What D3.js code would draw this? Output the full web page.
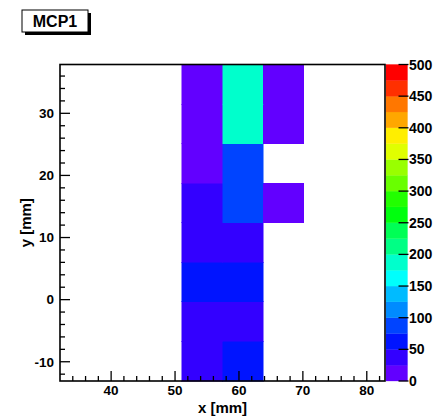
<!DOCTYPE html>
<html>
<head>
<meta charset="utf-8">
<script src="https://cdn.jsdelivr.net/npm/d3@7"></script>
<style>
  html, body { margin: 0; padding: 0; background: #fff; }
  svg { display: block; }
  text { font-family: "Liberation Sans", Arial, Helvetica, sans-serif; font-weight: bold; fill: #000; }
</style>
</head>
<body>
<svg id="chart" width="435" height="417"></svg>
<script>
// Bin edges of the 8 x 8 histogram (mm)
const xEdges = [32.0, 38.36, 44.71, 51.07, 57.43, 63.78, 70.14, 76.5, 82.85];
const yEdges = [-13.1, -6.73, -0.36, 6.01, 12.38, 18.75, 25.12, 31.49, 37.86];

// Bin contents, one row per y bin (bottom row first), one entry per x bin
const row0 = [0, 0, 0, 40, 60, 0, 0, 0];
const row1 = [0, 0, 0, 35, 38, 0, 0, 0];
const row2 = [0, 0, 0, 55, 65, 0, 0, 0];
const row3 = [0, 0, 0, 45, 48, 0, 0, 0];
const row4 = [0, 0, 0, 42, 90, 12, 0, 0];
const row5 = [0, 0, 0, 20, 85, 0, 0, 0];
const row6 = [0, 0, 0, 18, 185, 10, 0, 0];
const row7 = [0, 0, 0, 15, 190, 14, 0, 0];
const counts = [row0, row1, row2, row3, row4, row5, row6, row7];

// Axis ticks and colour scale
const xTicks = [40, 50, 60, 70, 80];
const yTicks = [-10, 0, 10, 20, 30];
const zMin = 0, zMax = 500;
const zTicks = [0, 50, 100, 150, 200, 250, 300, 350, 400, 450, 500];
const palette = [
  "#6200ff", "#3300ff", "#0014ff", "#0044ff", "#008bff",
  "#00bbff", "#00fffc", "#00ffcc", "#00ff85", "#00ff55",
  "#00ff0e", "#22ff00", "#69ff00", "#99ff00", "#e0ff00",
  "#ffee00", "#ffa700", "#ff7700", "#ff3000", "#ff0000"
];
const titleText = "MCP1";
const xTitle = "x [mm]";
const yTitle = "y [mm]";

const frame = { left: 60, right: 385, top: 64.5, bottom: 381 };
const bar = { left: 386, right: 407.5 };

const svg = d3.select("#chart");

const x = d3.scaleLinear().domain([xEdges[0], xEdges[xEdges.length - 1]]).range([frame.left, frame.right]);
const y = d3.scaleLinear().domain([yEdges[0], yEdges[yEdges.length - 1]]).range([frame.bottom, frame.top]);
const color = d3.scaleQuantize().domain([zMin, zMax]).range(palette);

// Histogram cells (empty bins are left blank)
const cells = [];
counts.forEach((row, j) => row.forEach((v, i) => {
  if (v > 0) cells.push({ i, j, v });
}));
svg.append("g").selectAll("rect").data(cells).join("rect")
  .attr("x", d => x(xEdges[d.i]))
  .attr("y", d => y(yEdges[d.j + 1]))
  .attr("width", d => x(xEdges[d.i + 1]) - x(xEdges[d.i]))
  .attr("height", d => y(yEdges[d.j]) - y(yEdges[d.j + 1]))
  .attr("fill", d => color(d.v))
  .attr("stroke", d => color(d.v))
  .attr("stroke-width", 0.5)
  .attr("shape-rendering", "crispEdges");

// Colour bar
const z = d3.scaleLinear().domain([zMin, zMax]).range([frame.bottom, frame.top]);
const step = (zMax - zMin) / palette.length;
svg.append("g").selectAll("rect").data(palette).join("rect")
  .attr("x", bar.left).attr("width", bar.right - bar.left)
  .attr("y", (d, k) => z(zMin + (k + 1) * step))
  .attr("height", (d, k) => z(zMin + k * step) - z(zMin + (k + 1) * step))
  .attr("fill", d => d).attr("stroke", d => d).attr("stroke-width", 0.3);
const gz = svg.append("g");
gz.selectAll("line").data(zTicks).join("line")
  .attr("x1", bar.right - 9).attr("x2", bar.right + 1)
  .attr("y1", d => z(d)).attr("y2", d => z(d))
  .attr("stroke", "#000").attr("stroke-width", 1.3);
gz.selectAll("text").data(zTicks).join("text")
  .attr("x", bar.right + 1.5).attr("y", d => z(d))
  .attr("dy", "0.36em").attr("font-size", 14)
  .text(d => d);

// Frame
svg.append("rect")
  .attr("x", frame.left).attr("y", frame.top)
  .attr("width", frame.right - frame.left).attr("height", frame.bottom - frame.top)
  .attr("fill", "none").attr("stroke", "#000").attr("stroke-width", 1.6);

// X axis: ticks pointing into the frame
const xMinor = d3.range(34, 83, 2).filter(v => !xTicks.includes(v));
const gx = svg.append("g").attr("transform", `translate(0,${frame.bottom})`);
gx.selectAll("line.minor").data(xMinor).join("line").attr("class", "minor")
  .attr("x1", d => x(d)).attr("x2", d => x(d)).attr("y1", 0).attr("y2", -5)
  .attr("stroke", "#000").attr("stroke-width", 1.3);
gx.selectAll("line.major").data(xTicks).join("line").attr("class", "major")
  .attr("x1", d => x(d)).attr("x2", d => x(d)).attr("y1", 0).attr("y2", -10)
  .attr("stroke", "#000").attr("stroke-width", 1.3);
gx.selectAll("text").data(xTicks).join("text")
  .attr("x", d => x(d)).attr("y", 14)
  .attr("text-anchor", "middle").attr("font-size", 13.5)
  .text(d => d);
svg.append("text")
  .attr("x", (frame.left + frame.right) / 2).attr("y", 413)
  .attr("text-anchor", "middle").attr("font-size", 15)
  .text(xTitle);

// Y axis
const yMinor = d3.range(-12, 38, 2).filter(v => !yTicks.includes(v));
const gy = svg.append("g").attr("transform", `translate(${frame.left},0)`);
gy.selectAll("line.minor").data(yMinor).join("line").attr("class", "minor")
  .attr("y1", d => y(d)).attr("y2", d => y(d)).attr("x1", 0).attr("x2", 5)
  .attr("stroke", "#000").attr("stroke-width", 1.3);
gy.selectAll("line.major").data(yTicks).join("line").attr("class", "major")
  .attr("y1", d => y(d)).attr("y2", d => y(d)).attr("x1", 0).attr("x2", 10)
  .attr("stroke", "#000").attr("stroke-width", 1.3);
gy.selectAll("text").data(yTicks).join("text")
  .attr("x", -6).attr("y", d => y(d))
  .attr("dy", "0.36em")
  .attr("text-anchor", "end").attr("font-size", 13.5)
  .text(d => d);
svg.append("text")
  .attr("transform", `translate(31,${(frame.top + frame.bottom) / 2}) rotate(-90)`)
  .attr("text-anchor", "middle").attr("font-size", 15)
  .text(yTitle);

// Title box with drop shadow
const tb = { x: 22, y: 10, w: 66, h: 22 };
svg.append("rect").attr("x", tb.x + 3).attr("y", tb.y + 3)
  .attr("width", tb.w).attr("height", tb.h).attr("fill", "#000");
svg.append("rect").attr("x", tb.x).attr("y", tb.y)
  .attr("width", tb.w).attr("height", tb.h)
  .attr("fill", "#fff").attr("stroke", "#000").attr("stroke-width", 1);
svg.append("text")
  .attr("x", tb.x + tb.w / 2).attr("y", tb.y + tb.h / 2)
  .attr("dy", "0.36em").attr("text-anchor", "middle").attr("font-size", 16)
  .text(titleText);
</script>
</body>
</html>
